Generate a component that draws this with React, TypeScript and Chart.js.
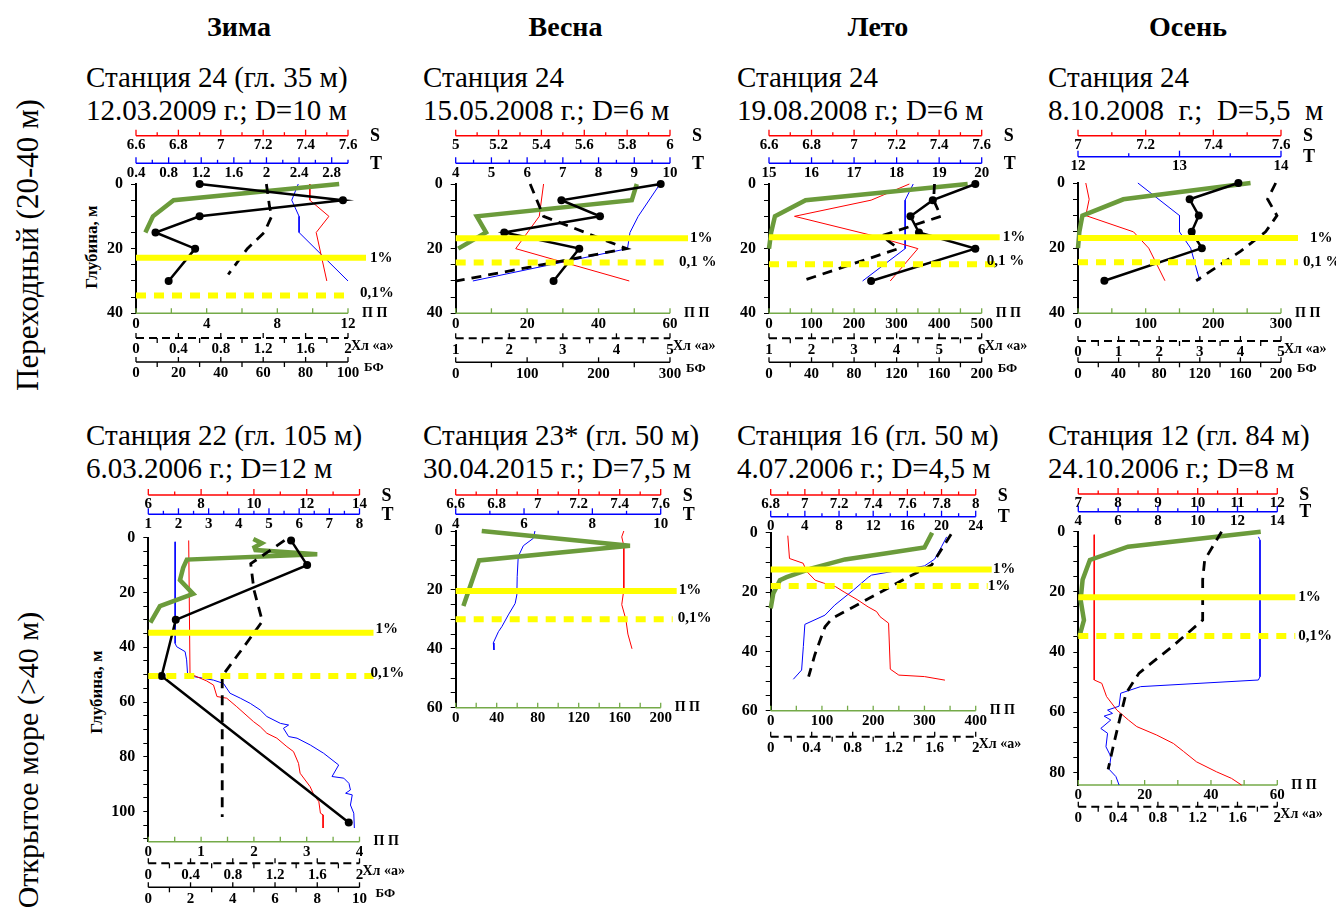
import React, { useEffect, useRef } from 'react';
import { Chart, registerables } from 'chart.js';

Chart.register(...registerables);

const FONT = "'Liberation Serif', 'Times New Roman', Times, serif";
Chart.defaults.font.family = FONT;

// ================= Headings =================
const seasons = ['Зима', 'Весна', 'Лето', 'Осень'];
const rowLabels = ['Переходный (20-40 м)', 'Открытое море (>40 м)'];
const stationTitles = [
  ['Станция 24 (гл. 35 м)', '12.03.2009 г.; D=10 м'],
  ['Станция 24', '15.05.2008 г.; D=6 м'],
  ['Станция 24', '19.08.2008 г.; D=6 м'],
  ['Станция 24', '8.10.2008  г.;  D=5,5  м'],
  ['Станция 22 (гл. 105 м)', '6.03.2006 г.; D=12 м'],
  ['Станция 23* (гл. 50 м)', '30.04.2015 г.; D=7,5 м'],
  ['Станция 16 (гл. 50 м)', '4.07.2006 г.; D=4,5 м'],
  ['Станция 12 (гл. 84 м)', '24.10.2006 г.; D=8 м'],
];
const depthTitle = 'Глубина, м';

// ================= Panel 1: Зима, ст. 24 =================
const p1DepthLabels = [0, 20, 40];
const p1SLabels = [6.6, 6.8, 7, 7.2, 7.4, 7.6];
const p1TLabels = [0.4, 0.8, 1.2, 1.6, 2, 2.4, 2.8];
const p1PpLabels = [0, 4, 8, 12];
const p1ChlLabels = [0, 0.4, 0.8, 1.2, 1.6, 2];
const p1BfLabels = [0, 20, 40, 60, 80, 100];
const p1BfDepth = [0, 5, 10, 15, 20, 30];
const p1Bf = [30, 97.6, 30, 9.2, 27.9, 15.4];
const p1PpDepth = [0, 5, 10, 15];
const p1Pp = [11.5, 2.13, 0.96, 0.53];
const p1ChlDepth = [0, 7, 10, 15, 20, 28];
const p1Chl = [1.23, 1.26, 1.28, 1.21, 1.05, 0.87];
const p1SDepth = [0, 5, 10, 15, 30];
const p1S = [7.42, 7.42, 7.51, 7.45, 7.5];
const p1TDepth = [0, 5, 10, 15, 30];
const p1T = [2.39, 2.31, 2.4, 2.4, 3.0];
const p1Yellow = [22.8, 34.5];
const p1YellowLabels = ['1%', '0,1%'];

// ================= Panel 2: Весна, ст. 24 =================
const p2DepthLabels = [0, 20, 40];
const p2SLabels = [5, 5.2, 5.4, 5.6, 5.8, 6];
const p2TLabels = [4, 5, 6, 7, 8, 9, 10];
const p2PpLabels = [0, 20, 40, 60];
const p2ChlLabels = [1, 2, 3, 4, 5];
const p2BfLabels = [0, 100, 200, 300];
const p2BfDepth = [0, 5, 10, 15, 20, 30];
const p2Bf = [287, 148, 202, 68, 173, 137];
const p2PpDepth = [0, 5, 10, 15, 20];
const p2Pp = [50.7, 49.3, 5.9, 8.5, 0.7];
const p2ChlDepth = [0, 10, 20, 30];
const p2Chl = [2.39, 2.64, 4.19, 1.02];
const p2SDepth = [0, 10, 20, 30];
const p2S = [5.41, 5.39, 5.28, 5.81];
const p2TDepth = [0, 10, 15, 20, 30];
const p2T = [9.72, 9.11, 8.88, 8.81, 4.48];
const p2Yellow = [16.8, 24.3];
const p2YellowLabels = ['1%', '0,1 %'];

// ================= Panel 3: Лето, ст. 24 =================
const p3DepthLabels = [0, 20, 40];
const p3SLabels = [6.6, 6.8, 7, 7.2, 7.4, 7.6];
const p3TLabels = [15, 16, 17, 18, 19, 20];
const p3PpLabels = [0, 100, 200, 300, 400, 500];
const p3ChlLabels = [1, 2, 3, 4, 5, 6];
const p3BfLabels = [0, 40, 80, 120, 160, 200];
const p3BfDepth = [0, 5, 10, 15, 20, 30];
const p3Bf = [194, 154, 133, 141, 194, 96];
const p3PpDepth = [0, 5, 10, 15, 20];
const p3Pp = [467, 86, 14, 5, 0];
const p3ChlDepth = [0, 5, 10, 16, 20, 30];
const p3Chl = [4.89, 4.87, 5.04, 3.65, 4.04, 1.77];
const p3SDepth = [0, 5, 10, 16, 20, 30];
const p3S = [7.26, 7.08, 6.72, 7.09, 7.3, 7.17];
const p3TDepth = [0, 5, 20, 30];
const p3T = [18.39, 18.2, 18.2, 17.2];
const p3Yellow = [16.5, 24.8];
const p3YellowLabels = ['1%', '0,1 %'];

// ================= Panel 4: Осень, ст. 24 =================
const p4DepthLabels = [0, 20, 40];
const p4SLabels = [7, 7.2, 7.4, 7.6];
const p4TLabels = [12, 13, 14];
const p4PpLabels = [0, 100, 200, 300];
const p4ChlLabels = [0, 1, 2, 3, 4, 5];
const p4BfLabels = [0, 40, 80, 120, 160, 200];
const p4BfDepth = [0, 5, 10, 15, 20, 30];
const p4Bf = [158, 110, 119, 112, 122, 26];
const p4PpDepth = [0, 5, 10, 15, 20];
const p4Pp = [255, 67, 6.5, 2, 0];
const p4ChlDepth = [0, 5, 10, 15, 21, 30];
const p4Chl = [4.87, 4.67, 4.9, 4.62, 4.0, 2.91];
const p4SDepth = [0, 5, 10, 15, 20, 30];
const p4S = [7.023, 7.033, 7.023, 7.164, 7.209, 7.257];
const p4TDepth = [0, 10, 15, 20, 30];
const p4T = [12.59, 13.0, 13.0, 13.11, 13.2];
const p4Yellow = [16.9, 24.3];
const p4YellowLabels = ['1%', '0,1 %'];

// ================= Panel 5: Зима, ст. 22 =================
const p5DepthLabels = [0, 20, 40, 60, 80, 100];
const p5SLabels = [6, 8, 10, 12, 14];
const p5TLabels = [1, 2, 3, 4, 5, 6, 7, 8];
const p5PpLabels = [0, 1, 2, 3, 4];
const p5ChlLabels = [0, 0.4, 0.8, 1.2, 1.6, 2];
const p5BfLabels = [0, 2, 4, 6, 8, 10];
const p5BfDepth = [1, 10, 30, 50.5, 104];
const p5Bf = [6.76, 7.52, 1.3, 0.63, 9.49];
const p5PpDepth = [0.5, 2, 3.5, 4.5, 6, 8, 11, 15.5, 20.5, 25, 31];
const p5Pp = [1.99, 2.15, 2.01, 2.03, 3.2, 0.73, 0.66, 0.6, 0.85, 0.22, 0.04];
const p5ChlDepth = [1, 9.5, 19, 30.5, 38.5, 50.5, 102];
const p5Chl = [1.29, 0.97, 1.0, 1.08, 0.93, 0.7, 0.7];
const p5SDepth = [1, 49.5, 50.1, 52.3, 53.8, 58, 58.6, 61.7, 67.2, 69, 71.4, 73.2, 76.3, 78.1, 82.4, 86, 90.9, 93.9, 96.4, 100.6, 101.2, 106];
const p5S = [7.53, 7.58, 7.68, 8.21, 8.47, 8.6, 8.97, 9.35, 9.99, 10.24, 10.49, 10.87, 11.25, 11.5, 11.69, 11.75, 12.13, 12.27, 12.46, 12.52, 12.62, 12.62];
const p5TDepth = [1.5, 38.6, 39.8, 41.6, 44.6, 49.5, 50.7, 52, 53.2, 56.8, 58.6, 60.5, 62.9, 65.3, 67.8, 68.4, 69.6, 72.6, 73.2, 75.7, 78.7, 83, 87.2, 87.8, 89.7, 92.1, 93.3, 93.9, 97.6, 100.6, 106];
const p5T = [1.89, 1.89, 1.94, 2.22, 2.27, 2.3, 2.5, 3.16, 3.49, 3.71, 4.05, 4.38, 4.71, 4.93, 5.38, 5.65, 5.48, 5.65, 5.93, 6.37, 6.81, 7.31, 7.09, 7.48, 7.65, 7.7, 7.54, 7.76, 7.7, 7.81, 7.83];
const p5Yellow = [34.7, 50.5];
const p5YellowLabels = ['1%', '0,1%'];

// ================= Panel 6: Весна, ст. 23* =================
const p6DepthLabels = [0, 20, 40, 60];
const p6SLabels = [6.6, 6.8, 7, 7.2, 7.4, 7.6];
const p6TLabels = [4, 6, 8, 10];
const p6PpLabels = [0, 40, 80, 120, 160, 200];
const p6PpDepth = [0, 5, 10, 25.5];
const p6Pp = [25.4, 170, 22.8, 7.5];
const p6SDepth = [0, 2, 5, 10, 20, 25, 30, 35, 40];
const p6S = [7.42, 7.41, 7.42, 7.42, 7.42, 7.41, 7.43, 7.44, 7.46];
const p6TDepth = [0, 2.5, 5, 8.7, 15.5, 21.7, 24.6, 28.5, 32.5, 34.2, 38, 40.4];
const p6T = [6.32, 6.27, 5.98, 5.83, 5.8, 5.79, 5.74, 5.54, 5.35, 5.25, 5.1, 5.12];
const p6Yellow = [20.4, 30.0];
const p6YellowLabels = ['1%', '0,1%'];

// ================= Panel 7: Лето, ст. 16 =================
const p7DepthLabels = [0, 20, 40, 60];
const p7SLabels = [6.8, 7, 7.2, 7.4, 7.6, 7.8, 8];
const p7TLabels = [0, 4, 8, 12, 16, 20, 24];
const p7PpLabels = [0, 100, 200, 300, 400];
const p7ChlLabels = [0, 0.4, 0.8, 1.2, 1.6, 2];
const p7PpDepth = [0, 5, 7, 9, 12, 15, 16, 20.5, 25.5];
const p7Pp = [315, 300, 223, 145, 80, 31, 18, 5, 0];
const p7ChlDepth = [0.5, 10.9, 15, 24, 28.9, 31.7, 41.2, 48.5];
const p7Chl = [1.76, 1.57, 1.34, 0.86, 0.6, 0.53, 0.43, 0.37];
const p7SDepth = [1, 8.7, 10.3, 13, 16, 17, 18.2, 20, 22.7, 25, 26.6, 28.3, 30.5, 46, 48, 48.5, 49.7];
const p7S = [6.9, 6.91, 6.99, 7.01, 7.06, 7.11, 7.18, 7.23, 7.31, 7.37, 7.42, 7.44, 7.49, 7.5, 7.55, 7.7, 7.82];
const p7TDepth = [1.4, 4.7, 8.9, 11.2, 14.3, 15.1, 19.3, 24.4, 27.8, 30.9, 38.4, 46.3, 49.4];
const p7T = [20.6, 20.0, 19.2, 18.0, 11.8, 11.4, 9.7, 7.5, 6.35, 4.0, 3.82, 3.62, 2.65];
const p7Yellow = [12.4, 18.0];
const p7YellowLabels = ['1%', '1%'];

// ================= Panel 8: Осень, ст. 12 =================
const p8DepthLabels = [0, 20, 40, 60, 80];
const p8SLabels = [7, 8, 9, 10, 11, 12];
const p8TLabels = [4, 6, 8, 10, 12, 14];
const p8PpLabels = [0, 20, 40, 60];
const p8ChlLabels = [0, 0.4, 0.8, 1.2, 1.6, 2];
const p8PpDepth = [0, 5, 9.4, 16, 22.7, 29.4, 35];
const p8Pp = [55, 15, 3.5, 1.3, 0.7, 1.7, 0.3];
const p8ChlDepth = [0, 9.4, 16, 29.4, 38, 47, 53.7, 60.4, 71.5, 79];
const p8Chl = [1.44, 1.27, 1.25, 1.25, 0.95, 0.61, 0.48, 0.43, 0.35, 0.3];
const p8SDepth = [1, 49.3, 50.4, 54.8, 59.3, 62.6, 64.8, 67.6, 70.4, 73, 76.5, 79.8, 82, 84.2];
const p8S = [7.4, 7.4, 7.59, 7.71, 7.97, 8.26, 8.47, 8.97, 9.39, 9.64, 9.97, 10.47, 10.85, 11.1];
const p8TDepth = [1.7, 2.8, 48.2, 49.3, 51.5, 53.7, 58, 59.3, 60.4, 61.3, 62.6, 65.4, 67, 71.5, 74.8, 79, 81.4, 84.2];
const p8T = [13.05, 13.13, 13.13, 13.05, 7.13, 6.13, 6.05, 5.47, 5.72, 5.3, 5.63, 5.13, 5.47, 5.39, 5.64, 5.55, 5.89, 6.05];
const p8Yellow = [21.8, 34.7];
const p8YellowLabels = ['1%', '0,1%'];

// ================= Types & builders =================
type AxisKey = 'S' | 'T' | 'PP' | 'CHL' | 'BF';
interface AxisDef { key: AxisKey; min: number; max: number; minor: number; labels: number[] }
interface SeriesDef { key: AxisKey; depth: number[]; values: number[] }
interface PanelDef {
  depthMax: number; depthLabels: number[];
  axes: AxisDef[]; series: SeriesDef[];
  yellow: number[]; yellowLabels: string[];
}
const ax = (key: AxisKey, min: number, max: number, minor: number, labels: number[]): AxisDef => ({ key, min, max, minor, labels });
const sr = (key: AxisKey, depth: number[], values: number[]): SeriesDef => ({ key, depth, values });

const PANELS: PanelDef[] = [
  {
    depthMax: 40, depthLabels: p1DepthLabels,
    axes: [ax('S', 6.6, 7.6, 0.1, p1SLabels), ax('T', 0.4, 3.0, 0.2, p1TLabels), ax('PP', 0, 12, 2, p1PpLabels), ax('CHL', 0, 2, 0.2, p1ChlLabels), ax('BF', 0, 100, 10, p1BfLabels)],
    series: [sr('BF', p1BfDepth, p1Bf), sr('CHL', p1ChlDepth, p1Chl), sr('PP', p1PpDepth, p1Pp), sr('S', p1SDepth, p1S), sr('T', p1TDepth, p1T)],
    yellow: p1Yellow, yellowLabels: p1YellowLabels,
  },
  {
    depthMax: 40, depthLabels: p2DepthLabels,
    axes: [ax('S', 5, 6, 0.1, p2SLabels), ax('T', 4, 10, 0.5, p2TLabels), ax('PP', 0, 60, 10, p2PpLabels), ax('CHL', 1, 5, 0.5, p2ChlLabels), ax('BF', 0, 300, 50, p2BfLabels)],
    series: [sr('BF', p2BfDepth, p2Bf), sr('CHL', p2ChlDepth, p2Chl), sr('PP', p2PpDepth, p2Pp), sr('S', p2SDepth, p2S), sr('T', p2TDepth, p2T)],
    yellow: p2Yellow, yellowLabels: p2YellowLabels,
  },
  {
    depthMax: 40, depthLabels: p3DepthLabels,
    axes: [ax('S', 6.6, 7.6, 0.1, p3SLabels), ax('T', 15, 20, 0.5, p3TLabels), ax('PP', 0, 500, 50, p3PpLabels), ax('CHL', 1, 6, 0.5, p3ChlLabels), ax('BF', 0, 200, 20, p3BfLabels)],
    series: [sr('BF', p3BfDepth, p3Bf), sr('CHL', p3ChlDepth, p3Chl), sr('PP', p3PpDepth, p3Pp), sr('S', p3SDepth, p3S), sr('T', p3TDepth, p3T)],
    yellow: p3Yellow, yellowLabels: p3YellowLabels,
  },
  {
    depthMax: 40, depthLabels: p4DepthLabels,
    axes: [ax('S', 7, 7.6, 0.1, p4SLabels), ax('T', 12, 14, 0.5, p4TLabels), ax('PP', 0, 300, 50, p4PpLabels), ax('CHL', 0, 5, 0.5, p4ChlLabels), ax('BF', 0, 200, 20, p4BfLabels)],
    series: [sr('BF', p4BfDepth, p4Bf), sr('CHL', p4ChlDepth, p4Chl), sr('PP', p4PpDepth, p4Pp), sr('S', p4SDepth, p4S), sr('T', p4TDepth, p4T)],
    yellow: p4Yellow, yellowLabels: p4YellowLabels,
  },
  {
    depthMax: 111, depthLabels: p5DepthLabels,
    axes: [ax('S', 6, 14, 1, p5SLabels), ax('T', 1, 8, 0.5, p5TLabels), ax('PP', 0, 4, 0.5, p5PpLabels), ax('CHL', 0, 2, 0.2, p5ChlLabels), ax('BF', 0, 10, 1, p5BfLabels)],
    series: [sr('BF', p5BfDepth, p5Bf), sr('CHL', p5ChlDepth, p5Chl), sr('PP', p5PpDepth, p5Pp), sr('S', p5SDepth, p5S), sr('T', p5TDepth, p5T)],
    yellow: p5Yellow, yellowLabels: p5YellowLabels,
  },
  {
    depthMax: 60, depthLabels: p6DepthLabels,
    axes: [ax('S', 6.6, 7.6, 0.1, p6SLabels), ax('T', 4, 10, 1, p6TLabels), ax('PP', 0, 200, 20, p6PpLabels)],
    series: [sr('PP', p6PpDepth, p6Pp), sr('S', p6SDepth, p6S), sr('T', p6TDepth, p6T)],
    yellow: p6Yellow, yellowLabels: p6YellowLabels,
  },
  {
    depthMax: 60, depthLabels: p7DepthLabels,
    axes: [ax('S', 6.8, 8, 0.1, p7SLabels), ax('T', 0, 24, 2, p7TLabels), ax('PP', 0, 400, 50, p7PpLabels), ax('CHL', 0, 2, 0.2, p7ChlLabels)],
    series: [sr('CHL', p7ChlDepth, p7Chl), sr('PP', p7PpDepth, p7Pp), sr('S', p7SDepth, p7S), sr('T', p7TDepth, p7T)],
    yellow: p7Yellow, yellowLabels: p7YellowLabels,
  },
  {
    depthMax: 84.2, depthLabels: p8DepthLabels,
    axes: [ax('S', 7, 12, 0.5, p8SLabels), ax('T', 4, 14, 1, p8TLabels), ax('PP', 0, 60, 10, p8PpLabels), ax('CHL', 0, 2, 0.2, p8ChlLabels)],
    series: [sr('CHL', p8ChlDepth, p8Chl), sr('PP', p8PpDepth, p8Pp), sr('S', p8SDepth, p8S), sr('T', p8TDepth, p8T)],
    yellow: p8Yellow, yellowLabels: p8YellowLabels,
  },
];

// ================= Layout (page pixels) =================
interface PanelLayout {
  l: number; r: number; t: number; b: number;
  lines: Partial<Record<AxisKey, number>>;
  yExt: number[]; yDx: number[]; yDy: number[];
}
const LAYOUT: PanelLayout[] = [
  { l: 136, r: 348, t: 184, b: 313.3, lines: { S: 135.7, T: 163.3, PP: 313.3, CHL: 338, BF: 362 }, yExt: [18, 2], yDx: [22, 12], yDy: [0, -2] },
  { l: 455.7, r: 670, t: 184, b: 313.3, lines: { S: 135.7, T: 163.3, PP: 313.3, CHL: 338.3, BF: 362.3 }, yExt: [18, 0], yDx: [20, 9], yDy: [0, 0] },
  { l: 769, r: 981.7, t: 184, b: 313.3, lines: { S: 135.7, T: 163.3, PP: 313.3, CHL: 338.3, BF: 362.3 }, yExt: [18, 20], yDx: [21, 5], yDy: [0, -3] },
  { l: 1078, r: 1281, t: 183, b: 313.3, lines: { S: 135.7, T: 156.7, PP: 313.3, CHL: 341, BF: 362.3 }, yExt: [17, 17], yDx: [29, 22], yDy: [0, 0] },
  { l: 148.3, r: 359.5, t: 537.7, b: 841.7, lines: { S: 495, T: 514.3, PP: 841.7, CHL: 863.3, BF: 887.3 }, yExt: [14, 14], yDx: [16, 11], yDy: [-4, -3] },
  { l: 455.7, r: 660.7, t: 531, b: 707.7, lines: { S: 495, T: 514.3, PP: 707.7 }, yExt: [16, 12], yDx: [18, 17], yDy: [-1, -1] },
  { l: 770.7, r: 975.7, t: 532.7, b: 710.7, lines: { S: 495, T: 516.7, PP: 710.7, CHL: 736.7 }, yExt: [16, 12], yDx: [17, 12], yDy: [0, 0] },
  { l: 1078.3, r: 1277.3, t: 531.7, b: 785, lines: { S: 494, T: 511.7, PP: 785, CHL: 806.7 }, yExt: [18, 18], yDx: [21, 21], yDy: [0, 0] },
];
const titleX = [86, 423, 737, 1048];
const seasonCx = [239, 565.5, 878, 1188];

// ================= Styles =================
const GREEN = '#6b9b3b';
const AXIS_STYLE: Record<AxisKey, any> = {
  S: { color: '#ff0000', width: 1.5, dash: [], title: 'S', titleFont: `bold 18px ${FONT}`, titleDx: 22, titleDy: 1, labelDy: 9.5 },
  T: { color: '#0000ff', width: 1.5, dash: [], title: 'T', titleFont: `bold 18px ${FONT}`, titleDx: 22, titleDy: 1, labelDy: 9.5 },
  PP: { color: '#74aa48', width: 1.5, dash: [], title: 'П П', titleFont: `bold 14px ${FONT}`, titleDx: 14, titleDy: 0, labelDy: 10.5 },
  CHL: { color: '#000000', width: 2, dash: [8, 5], title: 'Хл «а»', titleFont: `bold 14px ${FONT}`, titleDx: 3, titleDy: 8, labelDy: 11.5 },
  BF: { color: '#000000', width: 1.5, dash: [], title: 'БФ', titleFont: `bold 13px ${FONT}`, titleDx: 16, titleDy: 6, labelDy: 11.5 },
};
const SERIES_STYLE: Record<AxisKey, any> = {
  BF: { color: '#000000', width: 2.5, dash: [], radius: 4, order: 1 },
  CHL: { color: '#000000', width: 2.8, dash: [10, 7], radius: 0, order: 2 },
  PP: { color: GREEN, width: 4.5, dash: [], radius: 0, order: 3 },
  S: { color: '#ff0000', width: 1, dash: [], radius: 0, order: 4 },
  T: { color: '#0000ff', width: 1, dash: [], radius: 0, order: 5 },
};

function drawAxis(ctx: CanvasRenderingContext2D, scale: any, a: AxisDef, ly: number, right: number) {
  const st = AXIS_STYLE[a.key];
  const xa = scale.getPixelForValue(a.min);
  const xb = scale.getPixelForValue(a.max);
  ctx.save();
  ctx.strokeStyle = st.color;
  ctx.lineWidth = st.width;
  ctx.setLineDash(st.dash);
  ctx.beginPath();
  ctx.moveTo(xa, ly);
  ctx.lineTo(xb, ly);
  ctx.stroke();
  ctx.setLineDash([]);
  ctx.lineWidth = 1.3;
  const n = Math.round((a.max - a.min) / a.minor);
  for (let i = 0; i <= n; i++) {
    const v = a.min + i * a.minor;
    const major = a.labels.some((l) => Math.abs(l - v) < 1e-6);
    const x = scale.getPixelForValue(v);
    let y1 = ly;
    let y2 = ly;
    if (a.key === 'S' || a.key === 'T') { y1 = ly - (major ? 6 : 3.5); }
    else if (a.key === 'PP') { y1 = ly - 5; }
    else { if (major) y1 = ly - 5; else y2 = ly + 5; }
    ctx.beginPath();
    ctx.moveTo(x, y1);
    ctx.lineTo(x, y2);
    ctx.stroke();
  }
  ctx.fillStyle = '#000';
  ctx.font = `bold 15px ${FONT}`;
  ctx.textAlign = 'center';
  ctx.textBaseline = 'middle';
  a.labels.forEach((v) => ctx.fillText(String(v), scale.getPixelForValue(v), ly + st.labelDy));
  ctx.font = st.titleFont;
  ctx.textAlign = 'left';
  ctx.fillText(st.title, right + st.titleDx, ly + st.titleDy);
  ctx.restore();
}

function Panel({ def, lay }: { def: PanelDef; lay: PanelLayout }) {
  const ref = useRef<HTMLCanvasElement | null>(null);
  const lineYs = Object.values(lay.lines) as number[];
  const x0 = Math.floor(lay.l - 56);
  const y0 = Math.floor(Math.min(...lineYs) - 24);
  const W = Math.ceil(lay.r + 70 - x0);
  const H = Math.ceil(Math.max(...lineYs) + 26 - y0);

  useEffect(() => {
    const canvas = ref.current;
    if (!canvas) return;
    const scales: any = {
      y: {
        type: 'linear', position: 'left', reverse: true, min: 0, max: def.depthMax,
        afterFit: (sc: any) => { sc.width = lay.l - x0; },
        ticks: {
          stepSize: 5, autoSkip: false, includeBounds: false, color: '#000', padding: 8,
          font: { family: FONT, size: 16, weight: 'bold' },
          callback: (v: any) => (def.depthLabels.includes(v) ? String(v) : ''),
        },
        grid: { drawOnChartArea: false, drawTicks: true, tickLength: 5, color: '#000', lineWidth: 1 },
        border: { display: true, color: '#000', width: 2 },
      },
    };
    def.axes.forEach((a) => {
      scales['x' + a.key] = {
        type: 'linear', axis: 'x', position: a.key === 'S' || a.key === 'T' ? 'top' : 'bottom',
        display: false, min: a.min, max: a.max,
      };
    });
    const pp = def.axes.find((a) => a.key === 'PP') as AxisDef;
    const plotW = lay.r - lay.l;
    const datasets: any[] = [];
    def.yellow.forEach((d, i) => {
      datasets.push({
        data: [{ x: pp.min, y: d }, { x: pp.max + (lay.yExt[i] / plotW) * (pp.max - pp.min), y: d }],
        xAxisID: 'xPP', yAxisID: 'y', showLine: true, borderColor: '#ffff00', borderWidth: 6,
        borderDash: i === 0 ? [] : [10, 8], borderCapStyle: 'butt', pointRadius: 0, clip: false, order: 0,
      });
    });
    def.series.forEach((s) => {
      const st = SERIES_STYLE[s.key];
      datasets.push({
        data: s.depth.map((d, i) => ({ x: s.values[i], y: d })),
        xAxisID: 'x' + s.key, yAxisID: 'y', showLine: true, tension: 0,
        borderColor: st.color, borderWidth: st.width, borderDash: st.dash,
        pointRadius: st.radius, pointBackgroundColor: st.color, pointBorderColor: st.color, pointBorderWidth: 0,
        clip: false, order: st.order,
      });
    });
    const plugin = {
      id: 'panelAxes',
      beforeDatasetsDraw(chart: any) {
        const ctx = chart.ctx as CanvasRenderingContext2D;
        def.axes.forEach((a) => drawAxis(ctx, chart.scales['x' + a.key], a, (lay.lines[a.key] as number) - y0, chart.chartArea.right));
      },
      afterDatasetsDraw(chart: any) {
        const ctx = chart.ctx as CanvasRenderingContext2D;
        const ys = chart.scales.y;
        ctx.save();
        ctx.fillStyle = '#000';
        ctx.font = `bold 15px ${FONT}`;
        ctx.textAlign = 'left';
        ctx.textBaseline = 'middle';
        def.yellow.forEach((d, i) => {
          ctx.fillText(def.yellowLabels[i], chart.chartArea.right + lay.yDx[i], ys.getPixelForValue(d) + lay.yDy[i]);
        });
        ctx.restore();
      },
    };
    const chart = new Chart(canvas, {
      type: 'scatter',
      data: { datasets },
      options: {
        responsive: false, maintainAspectRatio: false, animation: false, devicePixelRatio: 1, events: [],
        layout: { padding: { left: 0, top: lay.t - y0, right: x0 + W - lay.r, bottom: y0 + H - lay.b } },
        plugins: { legend: { display: false }, tooltip: { enabled: false } },
        scales,
      },
      plugins: [plugin],
    } as any);
    return () => chart.destroy();
  }, []);

  return (
    <canvas
      ref={ref}
      width={W}
      height={H}
      style={{ position: 'absolute', left: x0, top: y0, width: W, height: H }}
    />
  );
}

export default function App() {
  return (
    <div style={{ position: 'fixed', left: 0, top: 0, width: 1336, height: 907, overflow: 'hidden', background: '#fff', fontFamily: FONT, color: '#000' }}>
      {seasons.map((s, i) => (
        <div key={s} style={{ position: 'absolute', left: seasonCx[i] - 100, width: 200, top: 10, textAlign: 'center', fontWeight: 'bold', fontSize: 28, lineHeight: '33px' }}>{s}</div>
      ))}
      {rowLabels.map((s, i) => (
        <div key={s} style={{ position: 'absolute', left: 28, top: i === 0 ? 245 : 760, transform: 'translate(-50%, -50%) rotate(-90deg)', whiteSpace: 'nowrap', fontSize: i === 0 ? 31 : 30, lineHeight: '34px' }}>{s}</div>
      ))}
      {stationTitles.map((lines, i) => (
        <div key={i} style={{ position: 'absolute', left: titleX[i % 4], top: i < 4 ? 61 : 419, fontSize: 29, lineHeight: '33px', whiteSpace: 'pre' }}>
          {lines[0]}
          <br />
          {lines[1]}
        </div>
      ))}
      {[{ cx: 92, cy: 247 }, { cx: 97, cy: 692 }].map((p, i) => (
        <div key={i} style={{ position: 'absolute', left: p.cx, top: p.cy, transform: 'translate(-50%, -50%) rotate(-90deg)', whiteSpace: 'nowrap', fontSize: 17, fontWeight: 'bold', lineHeight: '20px' }}>{depthTitle}</div>
      ))}
      {PANELS.map((p, i) => (
        <Panel key={i} def={p} lay={LAYOUT[i]} />
      ))}
    </div>
  );
}
